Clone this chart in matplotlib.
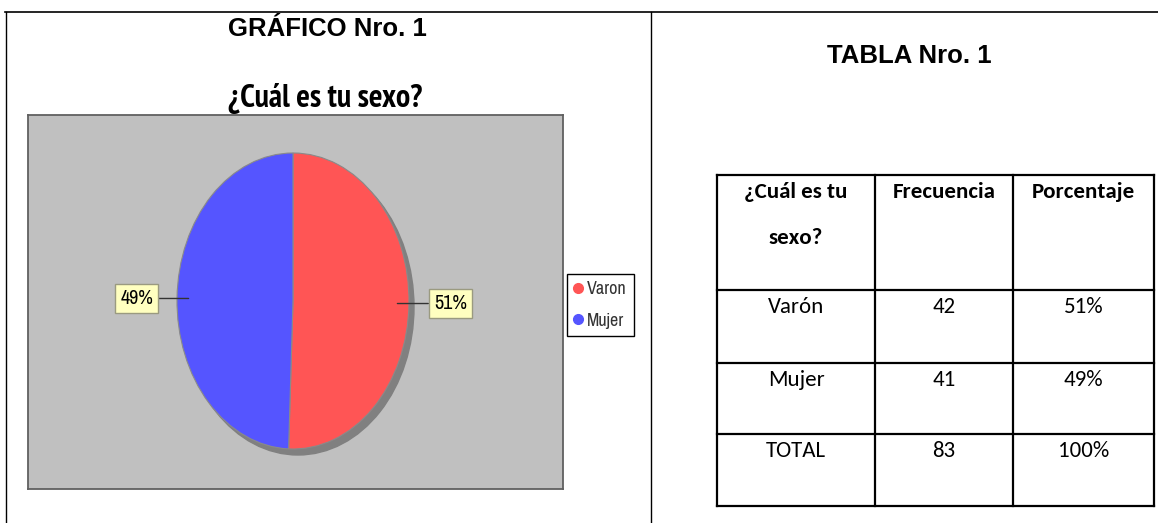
import matplotlib
matplotlib.use('Agg')
import matplotlib.pyplot as plt
from matplotlib.lines import Line2D
from matplotlib.patches import Ellipse
import numpy as np

# data
categorias = ['Varon', 'Mujer']
frecuencia = [42, 41]
colores = ['#FF5555', '#5555FF']

tabla_cab = ['¿Cuál es tu\nsexo?', 'Frecuencia', 'Porcentaje']
tabla_sexo = ['Varón', 'Mujer', 'TOTAL']
tabla_frec = ['42', '41', '83']
tabla_pct = ['51%', '49%', '100%']

narrow = ['Archivo Narrow', 'Roboto Condensed', 'DejaVu Sans']
narrow_bold = ['PT Sans Narrow', 'Fira Sans Condensed', 'Barlow Condensed',
               'Archivo Narrow', 'DejaVu Sans']
arial = ['Liberation Sans', 'DejaVu Sans']
calibri = ['Carlito', 'Lato', 'DejaVu Sans']

W, H = 1158, 523
fig = plt.figure(figsize=(W / 100, H / 100), dpi=100)

# background axes in pixel coordinates
bg = fig.add_axes([0, 0, 1, 1])
bg.set_xlim(0, W)
bg.set_ylim(H, 0)
bg.axis('off')

# page frame
bg.plot([5, W], [12, 12], color='black', lw=1.2)
bg.plot([6, 6], [12, H], color='black', lw=1)
bg.plot([651, 651], [12, H], color='black', lw=1)

bg.text(327, 29, 'GRÁFICO Nro. 1', ha='center', va='center',
        fontsize=18.5, fontweight='bold', family=arial)
bg.text(325, 98, '¿Cuál es tu sexo?', ha='center', va='center',
        fontsize=23, fontweight='bold', family=narrow_bold)
bg.text(909, 56, 'TABLA Nro. 1', ha='center', va='center',
        fontsize=18.5, fontweight='bold', family=arial)

# table
col_x = [717, 875, 1013, 1154]
row_y = [175, 290, 363, 434, 506]
for x in col_x:
    bg.plot([x, x], [row_y[0], row_y[-1]], color='black', lw=1.6)
for y in row_y:
    bg.plot([col_x[0], col_x[-1]], [y, y], color='black', lw=1.6)

for j, cab in enumerate(tabla_cab):
    cx = (col_x[j] + col_x[j + 1]) / 2
    for k, linea in enumerate(cab.split('\n')):
        bg.text(cx, row_y[0] + 17 + 46 * k, linea, ha='center', va='center',
                fontsize=16.5, fontweight='bold', family=calibri)
filas = list(zip(tabla_sexo, tabla_frec, tabla_pct))
for i, fila in enumerate(filas):
    for j, val in enumerate(fila):
        cx = (col_x[j] + col_x[j + 1]) / 2
        bg.text(cx, row_y[i + 1] + 17, val, ha='center', va='center',
                fontsize=16.5, family=calibri)

# pie chart (gray plot area)
x0, x1, y0, y1 = 28, 563, 115, 489
cx, cy, rx, ry = 293, 301, 116, 148
ax = fig.add_axes([x0 / W, 1 - y1 / H, (x1 - x0) / W, (y1 - y0) / H])
ax.add_patch(Ellipse((5 / rx, -6 / ry), 2, 2, color='#808080', zorder=0.5))
wedges, _ = ax.pie(frecuencia, colors=colores, startangle=90, counterclock=False,
                   frame=True, wedgeprops=dict(edgecolor='#8a8a8a', linewidth=0.8))
ax.set_aspect('auto')
ax.set_xlim((x0 - cx) / rx, (x1 - cx) / rx)
ax.set_ylim(-(y1 - cy) / ry, (cy - y0) / ry)
ax.set_facecolor('#C0C0C0')
ax.set_xticks([])
ax.set_yticks([])
for s in ax.spines.values():
    s.set_color('#606060')
    s.set_linewidth(1.3)

total = sum(frecuencia)
for w, v in zip(wedges, frecuencia):
    ang = np.deg2rad((w.theta1 + w.theta2) / 2)
    px, py = 0.9 * np.cos(ang), 0.9 * np.sin(ang)
    dx = 53 if np.cos(ang) > 0 else -52
    ax.annotate(f'{round(v / total * 100)}%', xy=(px, py), xytext=(dx, 0),
                textcoords='offset pixels', ha='center', va='center',
                fontsize=14.5, family=narrow,
                bbox=dict(boxstyle='square,pad=0.25', fc='#FFFFC0', ec='#9a9a80', lw=1),
                arrowprops=dict(arrowstyle='-', color='#333333', lw=1,
                                shrinkA=0, shrinkB=0),
                annotation_clip=False)

handles = [Line2D([], [], marker='o', ls='', color=c, markersize=7) for c in colores]
leg = fig.legend(handles, categorias, loc='upper left',
                 bbox_to_anchor=(567 / W, 1 - 274 / H), borderaxespad=0,
                 fancybox=False, framealpha=1, edgecolor='black',
                 handlelength=0.4, handletextpad=0.3, labelspacing=0.85,
                 borderpad=0.4, prop=dict(family=narrow, size=13))
leg.get_frame().set_linewidth(1)
for t in leg.get_texts():
    t.set_color('#333333')

fig.savefig('out.png', dpi=100)
